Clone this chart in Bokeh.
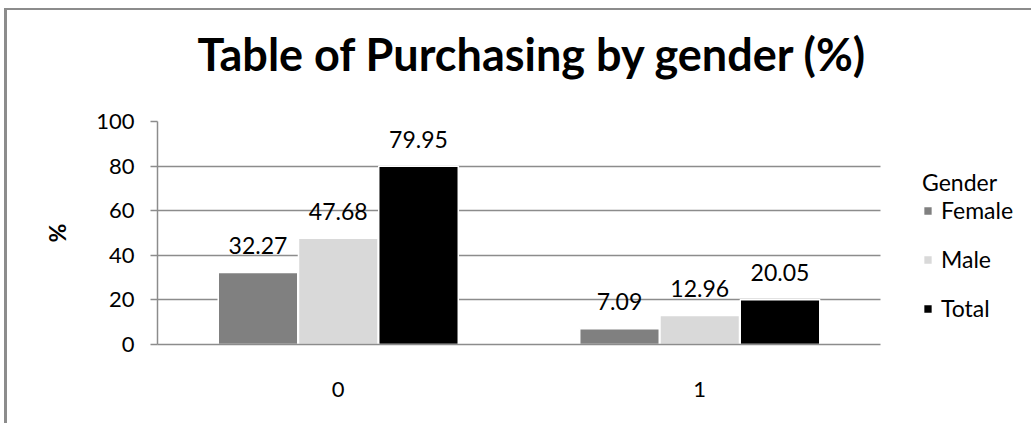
import numpy as np
from bokeh.plotting import figure
from bokeh.models import ColumnDataSource, Range1d, Legend, LegendItem, FixedTicker, Title
from bokeh.transform import dodge
from bokeh.core.properties import value
from bokeh.embed import file_html
from bokeh.resources import INLINE

# Purchasing outcome categories and percentage shares by gender
categories = ["0", "1"]
female = [32.27, 7.09]
male = [47.68, 12.96]
total = [79.95, 20.05]
series_names = ["Female", "Male", "Total"]
y_ticks = [0, 20, 40, 60, 80, 100]

FONT = "Lato"
GRID = "#8c8c8c"

# layout: one category slot is CAT_PX wide; the frame also holds the legend area
FIG_W, FIG_H = 1027, 415
LEFT, TOP, BOTTOM = 150, 111, 81
CAT_PX = 361.5
n_cat = len(categories)
x_end = (FIG_W - LEFT) / CAT_PX

cat_pos = np.arange(n_cat) + 0.5

source = ColumnDataSource(data=dict(
    pos=cat_pos,
    female=female,
    male=male,
    total=total,
    female_lbl=[f"{v:.2f}" for v in female],
    male_lbl=[f"{v:.2f}" for v in male],
    total_lbl=[f"{v:.2f}" for v in total],
))

p = figure(
    x_range=Range1d(0, x_end),
    y_range=Range1d(0, 100),
    width=FIG_W, height=FIG_H,
    output_backend="svg", toolbar_location=None,
    min_border_left=LEFT, min_border_right=0,
    min_border_top=TOP, min_border_bottom=BOTTOM,
)
p.styles = {"margin-left": "4px", "margin-top": "8px",
            "border-left": "3px solid #8c8c8c", "border-top": "2px solid #8c8c8c"}

# an empty spacer line between the plot area and the heading
p.add_layout(Title(text=" ", text_font_size="1px", standoff=33), "above")
p.add_layout(Title(text="Table of Purchasing by gender (%)", align="left", offset=40,
                   text_font=FONT, text_font_size="45px", text_font_style="bold",
                   text_color="black", standoff=10), "above")

p.outline_line_color = None
p.background_fill_color = "white"
p.border_fill_color = "white"

# y axis
p.yaxis.ticker = FixedTicker(ticks=y_ticks)
p.yaxis.axis_line_color = GRID
p.yaxis.axis_line_width = 1.5
p.yaxis.major_tick_line_color = GRID
p.yaxis.major_tick_line_width = 1.5
p.yaxis.major_tick_out = 7
p.yaxis.major_tick_in = 0
p.yaxis.minor_tick_line_color = None
p.yaxis.major_label_text_font = FONT
p.yaxis.major_label_text_font_size = "22px"
p.yaxis.major_label_text_color = "black"
p.yaxis.major_label_standoff = 16
p.yaxis.axis_label = "%"
p.yaxis.axis_label_text_font = FONT
p.yaxis.axis_label_text_font_size = "23px"
p.yaxis.axis_label_text_font_style = "bold"
p.yaxis.axis_label_text_color = "black"
p.yaxis.axis_label_standoff = 22

# x axis: category labels at slot centres, line only across the category slots
p.xaxis.ticker = FixedTicker(ticks=list(cat_pos))
p.xaxis.major_label_overrides = {float(v): c for v, c in zip(cat_pos, categories)}
p.xaxis.bounds = (0, n_cat)
p.xaxis.axis_line_color = GRID
p.xaxis.axis_line_width = 1.5
p.xaxis.major_tick_line_color = None
p.xaxis.minor_tick_line_color = None
p.xaxis.major_label_text_font = FONT
p.xaxis.major_label_text_font_size = "22px"
p.xaxis.major_label_text_color = "black"
p.xaxis.major_label_standoff = 31

p.xgrid.grid_line_color = None
p.ygrid.grid_line_color = GRID
p.ygrid.grid_line_width = 1.5
p.ygrid.cross_bounds = (0, n_cat)

colors = ["#808080", "#d9d9d9", "#000000"]
fields = ["female", "male", "total"]
offsets = [-0.222, 0.0, 0.222]

renderers = []
for field, color, off in zip(fields, colors, offsets):
    r = p.vbar(x=dodge("pos", off), top=field, width=0.22,
               source=source, fill_color=color, line_color="white", line_width=1.5)
    renderers.append(r)
    p.text(x=dodge("pos", off), y=field, text=field + "_lbl",
           source=source, text_align="center", text_baseline="alphabetic",
           y_offset=-27, text_font=value(FONT), text_font_size="23px",
           text_color="black")

legend = Legend(
    items=[LegendItem(label=n, renderers=[r]) for n, r in zip(series_names, renderers)],
    title="Gender",
    location=(765, 22),
    orientation="vertical",
    background_fill_alpha=0,
    border_line_color=None,
    padding=0, margin=0,
    glyph_width=11, glyph_height=11,
    label_height=20, spacing=21,
    label_standoff=8,
    label_text_font=FONT, label_text_font_size="23px",
    label_text_color="black",
    title_text_font=FONT, title_text_font_size="23px",
    title_text_font_style="normal",
    title_text_color="black",
    title_standoff=0,
)
p.add_layout(legend, "center")

open("out.html", "w").write(file_html(p, INLINE))
